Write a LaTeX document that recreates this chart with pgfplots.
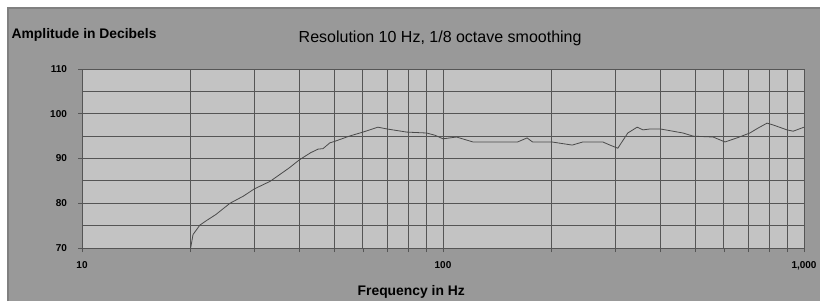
\documentclass[border=0pt]{standalone}
\usepackage{pgfplots}
\pgfplotsset{compat=1.18}
\usepackage{fontspec}
\setmainfont{Liberation Sans}
\definecolor{framegray}{HTML}{999999}
\definecolor{frameline}{HTML}{808080}
\definecolor{plotbg}{HTML}{C3C3C3}
\definecolor{gridc}{HTML}{555555}
\definecolor{curvec}{HTML}{4A4A4A}
\begin{document}
\begin{tikzpicture}
\useasboundingbox (0,0) rectangle (615pt,225.75pt);
\fill[white] (0,0) rectangle (615pt,225.75pt);
\fill[framegray] (6pt,0) rectangle (615pt,219.75pt);
\draw[frameline, line width=0.8pt] (6pt,0) -- (6pt,219.75pt) -- (615pt,219.75pt);
\coordinate (A) at (61.5pt,39.75pt);
\begin{axis}[
  at={(A)}, anchor=south west,
  scale only axis, width=541.5pt, height=134.25pt,
  xmode=log, xmin=10, xmax=1000, ymin=70, ymax=110,
  xtick={10,100,1000}, xticklabels={10,100,{1,000}},
  minor xtick={20,30,40,50,60,70,80,90,200,300,400,500,600,700,800,900},
  ytick={70,80,90,100,110}, yticklabels={70,80,90,100,110},
  extra y ticks={75,85,95,105}, extra y tick labels={},
  extra y tick style={major tick length=0pt, grid=major},
  xmajorgrids, xminorgrids, ymajorgrids,
  tick align=outside, tick pos=left,
  major tick length=3pt, minor tick length=3pt,
  axis background/.style={fill=plotbg},
  axis line style={draw=gridc, line width=0.6pt},
  major grid style={draw=gridc, line width=0.75pt},
  minor grid style={draw=gridc, line width=0.75pt},
  every tick/.style={draw=gridc, line width=0.6pt},
  /pgf/number format/assume math mode=true,
  ticklabel style={font=\bfseries\fontsize{7.5}{9}\selectfont},
  yticklabel style={xshift=-4.8pt},
  xticklabel style={yshift=-3.6pt},
  title={Resolution 10 Hz, 1/8 octave smoothing},
  title style={font=\fontsize{12}{14}\selectfont, at={(rel axis cs:0.496,1.128)}, anchor=center},
  xlabel={Frequency in Hz},
  xlabel style={font=\bfseries\fontsize{10.4}{12}\selectfont, at={(rel axis cs:0.456,-0.246)}, anchor=center},
  ylabel={Amplitude in Decibels},
  ylabel style={font=\bfseries\fontsize{10.4}{12}\selectfont, rotate=-90, at={(rel axis cs:-0.104,1.192)}, anchor=west},
]
\addplot[curvec, line width=0.6pt] coordinates {
(20,70) (20.3,73.0) (21.2,75.1) (22,76) (23.5,77.5) (25.7,80) (28,81.6) (30,83.2)
(33.2,84.9) (35,86.2) (37.5,87.9) (40,89.7) (43,91.3) (45.1,92.1) (46.5,92.2) (48.6,93.5)
(50,93.8) (55,95.0) (60,95.9) (66,97.0) (70,96.6) (79.4,95.9) (90,95.7) (95,95.2)
(100,94.4) (109,94.8) (121,93.7) (132,93.7) (161,93.7) (171,94.6) (177,93.7) (200,93.7)
(228,93.0) (244,93.7) (277,93.7) (290,93.0) (305,92.3) (325,95.7) (345,97.0) (358,96.4)
(375,96.6) (400,96.6) (462,95.7) (493,95.0) (560,94.8) (604,93.7) (652,94.6) (708,95.7)
(746,96.8) (790,97.9) (821,97.5) (897,96.4) (933,96.1) (1000,97.0)
};
\end{axis}
\end{tikzpicture}
\end{document}
